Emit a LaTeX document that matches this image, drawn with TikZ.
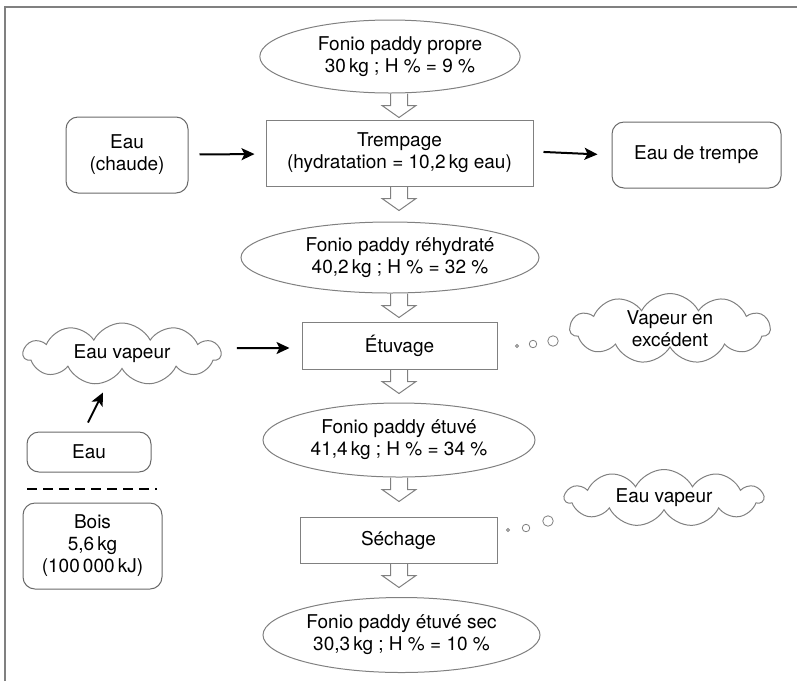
\documentclass[tikz,border=0pt]{standalone}
\usepackage{fontspec}
\setmainfont{TeX Gyre Heros}
\usetikzlibrary{shapes.geometric,shapes.symbols,arrows.meta,calc}
\definecolor{lg}{RGB}{128,128,128}
\definecolor{dg}{RGB}{105,105,105}
\newcommand\sh{\hspace*{20pt}}
\newcommand\blockarr[1]{\draw[blk] let \p1=(#1.south) in (390.5pt,\y1) -- (390.5pt,\y1-12pt) -- (382pt,\y1-12pt) -- (399pt,\y1-24pt) -- (416pt,\y1-12pt) -- (407.5pt,\y1-12pt) -- (407.5pt,\y1);}
\begin{document}
\begin{tikzpicture}[x=1pt,y=-1pt,
  base/.style={line width=1pt, font=\fontsize{19}{22}\selectfont, align=center, inner sep=0pt},
  ell/.style={base, draw=lg, ellipse},
  box/.style={base, draw=lg, rectangle},
  rbox/.style={base, draw=dg, rectangle, rounded corners=12pt},
  cloudy/.style={base, draw=lg, cloud, cloud puffs=11, cloud puff arc=125, cloud ignores aspect},
  bub/.style={circle, draw=lg, line width=0.8pt, inner sep=0pt},
  flow/.style={line width=2pt, -{Stealth[length=13pt,width=12pt,inset=3pt]}},
  blk/.style={draw=lg, line width=1pt, line join=miter}]
\useasboundingbox (0,0) rectangle (797,681);
\draw[lg, line width=1.5pt] (5,681) -- (5,7) -- (797,7);

\node[ell, minimum width=254, minimum height=73] (p1) at (390,56.5) {\sh Fonio paddy propre\\\sh 30\,kg ; H \% = 9 \%};
\node[box, minimum width=267, minimum height=66] (t) at (399.5,153) {Trempage\\(hydratation = 10,2\,kg eau)};
\node[rbox, minimum width=122, minimum height=76] (ec) at (127,155) {Eau\\(chaude)};
\node[rbox, minimum width=169, minimum height=66] (et) at (696.5,155) {Eau de trempe};
\node[ell, minimum width=298, minimum height=71] (p2) at (390,257.5) {\sh Fonio paddy réhydraté\\\sh 40,2\,kg ; H \% = 32 \%};
\node[box, minimum width=195, minimum height=47] (etu) at (399.5,345.5) {Étuvage};
\node[ell, minimum width=272, minimum height=74] (p3) at (399,440) {Fonio paddy étuvé\\41,4\,kg ; H \% = 34 \%};
\node[box, minimum width=197, minimum height=46] (sec) at (398.5,540) {Séchage};
\node[ell, minimum width=277, minimum height=75] (p4) at (401.5,635) {Fonio paddy étuvé sec\\30,3\,kg ; H \% = 10 \%};

\node[cloudy, minimum width=197, minimum height=62] (cv) at (122,354) {Eau vapeur};
\node[rbox, minimum width=124, minimum height=40] (eau) at (89,452) {Eau};
\coordinate (d1) at (27,489);
\coordinate (d2) at (157,489);
\draw[line width=2.5pt, dash pattern=on 10pt off 6pt] (d1) -- (d2);
\node[rbox, minimum width=139, minimum height=86] (bois) at (92.5,546) {Bois\\5,6\,kg\\(100\,000\,kJ)};

\node[cloudy, minimum width=200, minimum height=61] (ve) at (670,328.5) {Vapeur en\\excédent};
\node[cloudy, minimum width=198, minimum height=57] (vs) at (664,498) {Eau vapeur};

\node[bub, minimum size=3] (b1) at (517,346) {};
\node[bub, minimum size=7.5] (b2) at (533,344) {};
\node[bub, minimum size=10.5] (b3) at (553,341) {};
\node[bub, minimum size=3] (c1) at (508,530) {};
\node[bub, minimum size=7.5] (c2) at (526,528) {};
\node[bub, minimum size=10.5] (c3) at (548,521) {};

\draw[flow, shorten <=11pt, shorten >=11pt] (ec) -- (t);
\draw[flow, shorten <=10pt, shorten >=14pt] ([yshift=1.5pt]t.east) -- (et.west);
\draw[flow, shorten <=15pt, shorten >=12pt] ([yshift=6pt]cv.east) -- ([yshift=-2.5pt]etu.west);
\draw[flow] ($(eau.north)+(-1,-9)$) -- ($(eau.north)+(14,-39)$);

\blockarr{p1}
\blockarr{t}
\blockarr{p2}
\blockarr{etu}
\blockarr{p3}
\blockarr{sec}
\end{tikzpicture}
\end{document}
